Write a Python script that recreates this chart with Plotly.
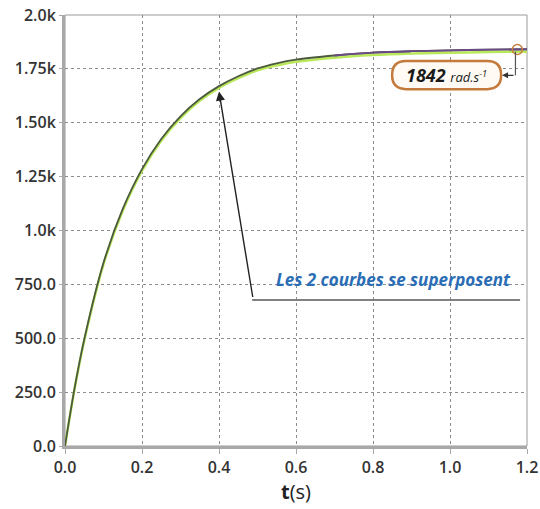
import plotly.graph_objects as go

# values (rad/s vs s)
t = [0, 0.025, 0.05, 0.1, 0.15, 0.2, 0.25, 0.3, 0.35, 0.4, 0.45, 0.5, 0.55,
     0.6, 0.7, 0.8, 0.9, 1.0, 1.1, 1.2]
w_dark = [0, 270, 495, 850, 1100, 1285, 1425, 1530, 1610, 1670, 1716, 1752, 1776,
          1793, 1812, 1825, 1832, 1836, 1839, 1841]
w_green = [0, 266, 489, 843, 1092, 1277, 1417, 1522, 1602, 1662, 1707, 1743, 1766,
           1783, 1802, 1814, 1821, 1825, 1828, 1830]
t_end = [0.7, 0.8, 0.9, 1.0, 1.1, 1.2]
w_end = [1812, 1825, 1832, 1836, 1839, 1841]

x_ticks = [0, 0.2, 0.4, 0.6, 0.8, 1.0, 1.2]
x_labels = ["0.0", "0.2", "0.4", "0.6", "0.8", "1.0", "1.2"]
y_ticks = [0, 250, 500, 750, 1000, 1250, 1500, 1750, 2000]
y_labels = ["0.0", "250.0", "500.0", "750.0", "1.0k", "1.25k", "1.50k", "1.75k", "2.0k"]

fig = go.Figure()
fig.add_trace(go.Scatter(x=t, y=w_green, mode="lines", line=dict(color="#b9e85a", width=2.5, shape="spline")))
fig.add_trace(go.Scatter(x=t, y=w_dark, mode="lines", line=dict(color="#4b5a3c", width=1.8, shape="spline")))
fig.add_trace(go.Scatter(x=t_end, y=w_end, mode="lines", line=dict(color="#6a4a86", width=1.8, shape="spline")))
fig.add_trace(go.Scatter(x=[1.175], y=[1840], mode="markers", cliponaxis=False,
                         marker=dict(symbol="circle-open", size=10, color="#c8803e", line=dict(width=1.5))))

# frame
fig.add_shape(type="rect", xref="paper", yref="paper", x0=0, x1=1, y0=0, y1=1,
              line=dict(color="#9a9a9a", width=1), layer="below")

# value callout box (rounded)
bx0, bx1, by0, by1 = 0.708, 0.944, 0.828, 0.893
rx, ry = 0.030, 0.0325
path = (f"M {bx0+rx},{by0} L {bx1-rx},{by0} Q {bx1},{by0} {bx1},{by0+ry} "
        f"L {bx1},{by1-ry} Q {bx1},{by1} {bx1-rx},{by1} L {bx0+rx},{by1} "
        f"Q {bx0},{by1} {bx0},{by1-ry} L {bx0},{by0+ry} Q {bx0},{by0} {bx0+rx},{by0} Z")
fig.add_shape(type="path", xref="paper", yref="paper", path=path,
              line=dict(color="#c47a3a", width=2.5), fillcolor="#fffaf3")
fig.add_annotation(xref="paper", yref="paper", x=(bx0 + bx1) / 2, y=(by0 + by1) / 2,
                   xanchor="center", yanchor="middle", showarrow=False,
                   text="<b><i>1842</i></b> <i><span style='font-size:13px'>rad.s<sup>-1</sup></span></i>",
                   font=dict(size=18, color="#1a1a1a"))
fig.add_shape(type="line", xref="paper", yref="paper", x0=0.975, x1=0.975, y0=0.915, y1=0.860,
              line=dict(color="#555555", width=1.2))
fig.add_annotation(xref="paper", yref="paper", x=0.946, y=0.860, ax=13, ay=0, text="",
                   showarrow=True, arrowhead=2, arrowsize=1, arrowwidth=1.2, arrowcolor="#333333")

# "Les 2 courbes" pointer
fig.add_annotation(x=0.4, y=1645, ax=34, ay=207, text="", showarrow=True,
                   arrowhead=2, arrowsize=1.3, arrowwidth=1.4, arrowcolor="#222222")
fig.add_shape(type="line", xref="paper", yref="paper", x0=0.405, x1=0.985, y0=0.3387, y1=0.3387,
              line=dict(color="#808080", width=2))
fig.add_annotation(xref="paper", yref="paper", x=0.712, y=0.386,
                   xanchor="center", yanchor="middle", showarrow=False,
                   text="<b><i>Les 2 courbes se superposent</i></b>",
                   font=dict(size=17, color="#2a6db5"))

fig.update_xaxes(range=[0, 1.2], tickvals=x_ticks, ticktext=x_labels, automargin=False,
                 showgrid=True, gridcolor="#8c8c8c", griddash="dot", gridwidth=1,
                 showline=True, linecolor="#a8a8a8", linewidth=3,
                 ticks="outside", ticklen=5, tickcolor="#a8a8a8", zeroline=False,
                 tickfont=dict(size=16, color="#333333", weight=600),
                 title=dict(text="<b>t</b>(s)", font=dict(size=20, color="#222222"), standoff=4))
fig.update_yaxes(range=[0, 2000], tickvals=y_ticks, ticktext=y_labels, automargin=False,
                 showgrid=True, gridcolor="#8c8c8c", griddash="dot", gridwidth=1,
                 showline=True, linecolor="#a8a8a8", linewidth=3,
                 ticks="outside", ticklen=3, tickcolor="#a8a8a8", zeroline=False,
                 tickfont=dict(size=16, color="#333333", weight=600))

fig.update_layout(width=540, height=509, showlegend=False,
                  margin=dict(l=65, r=13, t=15, b=63),
                  plot_bgcolor="white", paper_bgcolor="white",
                  font=dict(family="Open Sans"))

fig.write_html("out.html", config={"displayModeBar": False},
               post_script="document.body.style.margin='0';")
